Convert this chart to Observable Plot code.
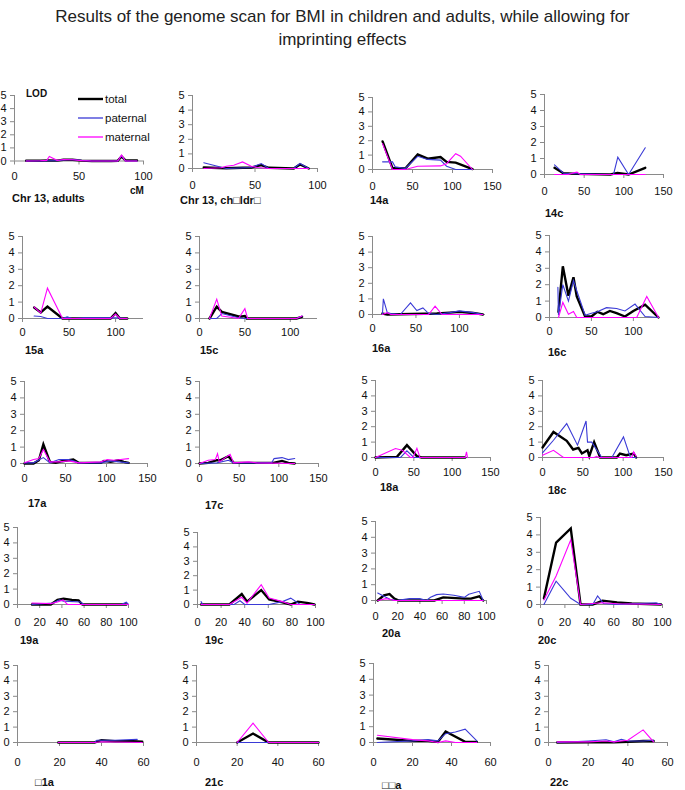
<!DOCTYPE html>
<html><head><meta charset="utf-8">
<script src="https://cdn.jsdelivr.net/npm/d3@7"></script>
<script src="https://cdn.jsdelivr.net/npm/@observablehq/plot@0.6"></script>
<style>
body{margin:0;background:#fff;font-family:"Liberation Sans",Arial,sans-serif;}
#root{position:relative;width:685px;height:790px;overflow:hidden;background:#fff;}
.title{position:absolute;left:0;top:5px;width:685px;text-align:center;font-size:17px;line-height:23px;color:#222;}
.plab{position:absolute;font-weight:bold;font-size:11px;color:#111;white-space:nowrap;line-height:12px;}
.panel{position:absolute;}
</style></head><body><div id="root"></div>
<script>
// ---------------- DATA ----------------
const titleLines = ["Results of the genome scan for BMI in children and adults, while allowing for", "imprinting effects"];
const panelLabels = ["Chr 13, adults","Chr 13, ch\u25A1ldr\u25A1","14a","14c","15a","15c","16a","16c","17a","17c","18a","18c","19a","19c","20a","20c","\u25A11a","21c","\u25A1\u25A1a","22c"];
const seriesNames = ["total","paternal","maternal"];
const yTicks = [0,1,2,3,4,5];
const axisLabelY = "LOD";
const axisLabelX = "cM";

const c13a_total = [[9,0.02],[20,0.02],[27,0.05],[33,0.03],[38,0.1],[45,0.1],[52,0.03],[60,0],[75,0],[80,0.02],[83,0.35],[86,0.05],[95,0.05]];
const c13a_paternal = [[9,0],[20,0],[27,0.02],[33,0.02],[38,0.08],[45,0.12],[52,0.05],[60,0],[75,0],[80,0],[83,0.4],[86,0],[95,0]];
const c13a_maternal = [[9,0],[20,0.02],[25,0.05],[27,0.35],[33,0.05],[38,0.12],[45,0.1],[52,0.03],[60,0],[80,0],[83,0.45],[86,0],[95,0]];

const c13c_total = [[9,0.07],[27,0.02],[47,0.07],[55,0.23],[61,0.05],[81,0],[86,0.28],[93,0]];
const c13c_paternal = [[9,0.39],[27,0],[47,0.07],[55,0.34],[61,0],[81,0],[86,0.34],[93,0]];
const c13c_maternal = [[9,0],[23,0.05],[27,0.15],[33,0.22],[40,0.45],[47,0.15],[52,0.07],[61,0],[93,0]];

const c14a_total = [[12.6,1.95],[25,0.1],[41,0.07],[56.5,1.05],[69,0.75],[85,0.87],[92.6,0.53],[104,0.48],[125,0.03]];
const c14a_paternal = [[12.6,0.53],[25,0.53],[28.5,0.18],[41,0.07],[56.5,0.92],[69,0.7],[85,0.65],[92.6,0.23],[104,0],[125,0]];
const c14a_maternal = [[12.6,1.8],[25,0],[41,0],[56.5,0.23],[85,0.25],[92.6,0.4],[104,1.1],[110,0.92],[125,0]];

const c14c_total = [[12.6,0.42],[24,0.08],[41,0.04],[83,0],[92,0.1],[106,0],[127,0.42]];
const c14c_paternal = [[12.6,0.6],[24,0.08],[41,0.05],[87,0],[92.4,1.08],[106,0],[127,1.67]];
const c14c_maternal = [[12.6,0],[30,0],[36.5,0.1],[41,0.15],[45,0],[127,0]];

const c15a_total = [[12.5,0.67],[19.6,0.37],[26.8,0.73],[43,0],[94.6,0],[100,0.33],[104.6,0],[112.5,0]];
const c15a_paternal = [[12.5,0.15],[19.6,0.12],[26.8,0],[43,0],[48,0.1],[53.6,0],[66,0.04],[100,0.05],[112.5,0]];
const c15a_maternal = [[12.5,0.7],[19.6,0.33],[26.8,1.85],[43,0],[94.6,0],[100,0.27],[104.6,0],[112.5,0]];

const c15c_total = [[11,0],[19,0.72],[24.6,0.4],[43,0.12],[46.7,0.12],[50,0.15],[52,0],[107,0],[113,0.1]];
const c15c_paternal = [[11,0],[19,0],[24.6,0.3],[43,0.05],[50,0],[107,0],[113,0.15]];
const c15c_maternal = [[11,0],[19,1.18],[24.6,0.15],[43,0],[50,0.6],[53,0],[107,0],[113,0.15]];

const c16a_total = [[11.4,0.06],[17,0],[74,0.06],[89,0.12],[100,0.17],[116,0.1],[127,0]];
const c16a_paternal = [[11.4,0],[12.5,1.0],[17,0.12],[21,0.06],[32,0],[43.7,0.75],[51,0.25],[58,0.42],[64.6,0.06],[74,0],[89,0.12],[100,0.23],[116,0.12],[127,0]];
const c16a_maternal = [[11.4,0],[17,0.12],[21,0],[64.6,0],[72,0.53],[80,0],[127,0]];

const c16c_total = [[10.7,0.35],[15.9,3.12],[22.6,1.33],[28.6,2.45],[32.5,1.28],[42.5,0.06],[50,0.06],[57,0.35],[64,0.2],[72,0.4],[80,0.27],[90,0.06],[100,0.4],[114,0.78],[130,0]];
const c16c_paternal = [[10,1.84],[10.7,0.14],[15.9,2.0],[22.6,1.0],[28.6,2.25],[32.5,1.63],[42.5,0.14],[50,0.26],[57,0.35],[68,0.6],[80,0.55],[90,0.4],[102,0.82],[114,0.06],[130,0]];
const c16c_maternal = [[10.7,0],[15.9,0.92],[22.6,0.2],[28.6,0.37],[32.5,0],[104,0],[116,1.28],[130,0]];

const c17a_total = [[0,0],[11,0],[17.5,0.2],[23,1.17],[31,0.1],[38,0.04],[46,0.14],[54,0.2],[59.5,0.24],[66,0.04],[93,0.04],[97,0.16],[105,0.1],[115,0.2],[121,0.1],[127,0.04]];
const c17a_paternal = [[0,0.04],[11,0.04],[23,0.36],[31,0.04],[42,0.24],[54,0.24],[59.5,0.16],[66,0.04],[93,0.04],[105,0.16],[115,0.1],[127,0.04]];
const c17a_maternal = [[0,0.04],[11,0.24],[17.5,0.3],[23,0.86],[31,0.1],[42,0.1],[54,0.16],[66,0.04],[93,0.1],[101,0.24],[109,0.2],[117,0.24],[127,0.3]];

const c17c_total = [[0,0],[11,0.04],[22,0.2],[26,0.2],[36.5,0.44],[43,0.04],[93,0.04],[104,0.16],[112,0.04],[120,0]];
const c17c_paternal = [[0,0],[22,0.04],[36.5,0.2],[43,0.04],[91,0.04],[94,0.3],[104,0.36],[112,0.24],[120,0.3]];
const c17c_maternal = [[0,0],[11,0.2],[20,0.24],[22.7,0.6],[25,0.1],[38.6,0.56],[43,0.04],[62,0.1],[72,0.04],[120,0]];

const c18a_total = [[0,0],[28,0.04],[41,0.8],[54,0.09],[60,0],[117,0]];
const c18a_paternal = [[0,0],[32.6,0],[41,0.43],[50,0],[117,0]];
const c18a_maternal = [[0,0],[26,0.58],[35,0.47],[45.6,0],[49,0],[54,0.6],[58,0],[117,0],[118.7,0.37],[120,0]];

const c18c_total = [[0,0.65],[13.6,1.66],[30,1.08],[38,0.52],[44.6,0.62],[48.8,0.26],[55.8,0.47],[58,0.09],[64,1.0],[71.5,0],[92,0],[96,0.26],[103.7,0.15],[113,0.26],[116,0]];
const c18c_paternal = [[0,0.3],[13.6,1.12],[30,2.2],[43.4,0.8],[54,2.37],[55.8,1.0],[61,1.0],[73.5,0],[86,0],[100.4,1.34],[109,0],[116,0]];
const c18c_maternal = [[0,0.15],[13.6,0.47],[26,0],[64,0],[67,0.08],[70,0],[110.7,0],[113,0.36],[116,0.08]];

const c19a_total = [[13,0],[30,0],[36,0.3],[41.5,0.37],[49,0.3],[55,0.27],[58.5,0],[98,0]];
const c19a_paternal = [[13,0],[32,0.1],[37.7,0.3],[41.5,0.22],[56.6,0.16],[60,0],[94,0.02],[98,0.15],[100,0]];
const c19a_maternal = [[13,0.1],[30,0.06],[36,0.16],[41,0.3],[45,0],[100,0]];

const c19c_total = [[3,0],[27,0],[37.5,0.73],[42,0.2],[54,1.0],[60.7,0.35],[72,0.15],[79,0],[85,0.2],[94,0.1],[99,0]];
const c19c_paternal = [[3,0.2],[4.5,0],[31,0],[36,0.26],[40,0],[60.7,0],[72,0.2],[79,0.44],[87,0],[99,0]];
const c19c_maternal = [[3,0],[27,0],[37.5,0.5],[42,0.1],[54,1.38],[60.7,0.45],[72,0.2],[79,0],[99,0]];

const c20a_total = [[2,0],[7.6,0.33],[12.6,0.41],[17,0.12],[21,0],[53,0],[61,0.2],[80,0.12],[86,0.12],[93.5,0.27],[97,0]];
const c20a_paternal = [[2,0.47],[7.6,0.27],[13.4,0.06],[19,0],[30.5,0.12],[40,0.12],[45.8,0],[49.6,0.2],[55,0.37],[61,0.41],[70.6,0.33],[80,0.2],[84,0.4],[93.5,0.58],[97,0]];
const c20a_maternal = [[2,0],[9.5,0.12],[13.4,0.06],[17,0],[97,0]];

const c20c_total = [[2.8,0.36],[12.8,3.56],[24.8,4.37],[32.8,0],[42.8,0],[50.8,0.22],[62.8,0.12],[74.8,0.06],[98.8,0]];
const c20c_paternal = [[2.8,0],[12.8,1.34],[24.8,0.36],[32.8,0],[42.8,0],[46.8,0.49],[51.6,0.06],[62.8,0],[94.8,0.1],[98.8,0]];
const c20c_maternal = [[2.8,0.26],[12.8,1.64],[24.8,3.72],[32.8,0],[50.8,0.1],[62.8,0.04],[98.8,0]];

const c21a_total = [[19.4,0],[36.7,0],[40,0.15],[46.4,0.09],[55,0.09],[59.4,0.05]];
const c21a_paternal = [[19.4,0],[36.7,0],[37.8,0.15],[46.4,0.15],[57,0.2]];
const c21a_maternal = [[19.4,0],[36.7,0],[40,0.05],[59.4,0]];

const c21c_total = [[20,0],[27.8,0.58],[35.5,0],[60,0]];
const c21c_paternal = [[20,0],[27.8,0],[60,0]];
const c21c_maternal = [[20,0],[27.8,1.26],[35.5,0],[60,0]];

const c22a_total = [[2,0.25],[20,0.1],[28,0.1],[33,0.04],[37,0.7],[47,0.04],[53,0.04]];
const c22a_paternal = [[2,0],[20,0.1],[28,0.18],[33,0.1],[37,0.56],[42,0.66],[47,0.84],[53,0.1]];
const c22a_maternal = [[2,0.46],[20,0.18],[28,0.1],[33,0],[37,0.1],[42,0],[53,0]];

const c22c_total = [[4.4,0],[20,0.02],[33,0.02],[40,0.04],[47.7,0.1],[53,0.1]];
const c22c_paternal = [[4.4,0],[20,0.1],[29,0.18],[33,0.04],[36.7,0.2],[40,0.1],[47.7,0.1],[53,0.15]];
const c22c_maternal = [[4.4,0.04],[20,0.04],[29,0.1],[33,0.04],[40,0.15],[47.7,0.82],[53,0.04]];

const panelData = [
  [c13a_total,c13a_paternal,c13a_maternal],[c13c_total,c13c_paternal,c13c_maternal],
  [c14a_total,c14a_paternal,c14a_maternal],[c14c_total,c14c_paternal,c14c_maternal],
  [c15a_total,c15a_paternal,c15a_maternal],[c15c_total,c15c_paternal,c15c_maternal],
  [c16a_total,c16a_paternal,c16a_maternal],[c16c_total,c16c_paternal,c16c_maternal],
  [c17a_total,c17a_paternal,c17a_maternal],[c17c_total,c17c_paternal,c17c_maternal],
  [c18a_total,c18a_paternal,c18a_maternal],[c18c_total,c18c_paternal,c18c_maternal],
  [c19a_total,c19a_paternal,c19a_maternal],[c19c_total,c19c_paternal,c19c_maternal],
  [c20a_total,c20a_paternal,c20a_maternal],[c20c_total,c20c_paternal,c20c_maternal],
  [c21a_total,c21a_paternal,c21a_maternal],[c21c_total,c21c_paternal,c21c_maternal],
  [c22a_total,c22a_paternal,c22a_maternal],[c22c_total,c22c_paternal,c22c_maternal]
];
// x-axis: [domain max, tick values]
const xTicks100 = [0,50,100];
const xTicks150 = [0,50,100,150];
const xTicks20 = [0,20,40,60,80,100];
const xTicks60 = [0,20,40,60];
const panelX = [
  [100,xTicks100],[100,xTicks100],[150,xTicks150],[150,xTicks150],
  [130,xTicks100],[130,xTicks100],[130,xTicks100],[130,xTicks100],
  [150,xTicks150],[150,xTicks150],[150,xTicks150],[150,xTicks150],
  [100,xTicks20],[100,xTicks20],[100,xTicks20],[100,xTicks20],
  [60,xTicks60],[60,xTicks60],[60,xTicks60],[60,xTicks60]
];

// ---------------- LAYOUT (pixels) ----------------
// [axis x, y of 5, y of 0, x of domain max, label x, label y, x tick label padding]
const layout = [
  [14,95,160.5,143,12,192,7],[192,95,168,317,180,194,9],[372,97,169,492,370,194,9],[544,94,174,663,545,207,9],
  [22,236,318,143,25,344,6],[199,236,318,317,200,344,6],[372,236,314,485,372,342,6],[549,235,317,658,548,346,6],
  [24,381,463,147,28,497,7],[199,381,463,318,205,499,7],[375,380,457,490,380,481,7],[542,380,457,663,548,484,7],
  [17,527,604,128,20,634,10],[197,532,604,315,205,634,10],[375,521,600,486,382,627,8],[540,517,604,662,538,634,10],
  [17,665,742,143,35,776,12],[196,665,742,318,205,776,12],[373,663,742,490,382,779,12],[548,665,742,667,550,776,12]
];
const seriesStyle = [
  {stroke:"#000000", strokeWidth:2.4},
  {stroke:"#3a3ad6", strokeWidth:1.1},
  {stroke:"#ff00ff", strokeWidth:1.1}
];

const root = document.getElementById("root");
const t = document.createElement("div");
t.className = "title";
t.innerHTML = titleLines.join("<br>");
root.appendChild(t);

panelData.forEach((series, i) => {
  const [ax, y5, y0, xEnd, lx, ly, xpad] = layout[i];
  const [dmax, ticks] = panelX[i];
  const mL = 24, mR = 14, mT = 8, mB = 28;
  const w = mL + (xEnd - ax) + mR, h = mT + (y0 - y5) + mB;
  const marks = [
    Plot.ruleX([0], {y1: 0, y2: 5, stroke: "#8a8a8a", strokeWidth: 1}),
    Plot.ruleY([0], {x1: 0, x2: dmax, stroke: "#8a8a8a", strokeWidth: 1}),
    Plot.axisY({ticks: yTicks, tickSize: 4, tickPadding: 4, label: null, tickFormat: d => d}),
    Plot.axisX({ticks: ticks, tickSize: 4, tickPadding: xpad, label: null, tickFormat: d => d})
  ];
  series.forEach((pts, k) => {
    marks.push(Plot.line(pts, {x: d => d[0], y: d => d[1], ...seriesStyle[k], strokeLinejoin: "miter", strokeMiterlimit: 4}));
  });
  const chart = Plot.plot({
    width: w, height: h,
    marginLeft: mL, marginRight: mR, marginTop: mT, marginBottom: mB,
    x: {domain: [0, dmax], range: [mL, mL + (xEnd - ax)]},
    y: {domain: [0, 5], range: [mT + (y0 - y5), mT]},
    style: {fontFamily: "'Liberation Sans', Arial, sans-serif", fontSize: "11px", color: "#111", background: "transparent", overflow: "visible"},
    marks
  });
  chart.querySelectorAll('g[aria-label$="tick"] path, g[aria-label$="tick"]').forEach(el => el.setAttribute("stroke", "#8a8a8a"));
  chart.classList.add("panel");
  chart.style.left = (ax - mL) + "px";
  chart.style.top = (y5 - mT) + "px";
  root.appendChild(chart);
  const lab = document.createElement("div");
  lab.className = "plab";
  lab.style.left = lx + "px";
  lab.style.top = ly + "px";
  lab.textContent = panelLabels[i];
  root.appendChild(lab);
});

// LOD / cM labels
const lod = document.createElement("div");
lod.className = "plab"; lod.style.left = "26px"; lod.style.top = "88px"; lod.style.fontSize = "10px";
lod.textContent = axisLabelY; root.appendChild(lod);
const cm = document.createElement("div");
cm.className = "plab"; cm.style.left = "130px"; cm.style.top = "185px"; cm.style.fontSize = "10px";
cm.textContent = axisLabelX; root.appendChild(cm);

// legend
const ns = "http://www.w3.org/2000/svg";
const leg = document.createElementNS(ns, "svg");
leg.setAttribute("width", 90); leg.setAttribute("height", 55);
leg.style.position = "absolute"; leg.style.left = "75px"; leg.style.top = "88px";
seriesNames.forEach((s, k) => {
  const y = 11 + k * 19;
  const ln = document.createElementNS(ns, "line");
  ln.setAttribute("x1", 3); ln.setAttribute("x2", 28); ln.setAttribute("y1", y); ln.setAttribute("y2", y);
  ln.setAttribute("stroke", seriesStyle[k].stroke); ln.setAttribute("stroke-width", k === 0 ? 2.4 : 1.3);
  leg.appendChild(ln);
  const tx = document.createElementNS(ns, "text");
  tx.setAttribute("x", 30); tx.setAttribute("y", y + 4);
  tx.setAttribute("font-family", "'Liberation Sans', Arial, sans-serif"); tx.setAttribute("font-size", "11.5");
  tx.setAttribute("fill", "#111");
  tx.textContent = s;
  leg.appendChild(tx);
});
root.appendChild(leg);
</script></body></html>
